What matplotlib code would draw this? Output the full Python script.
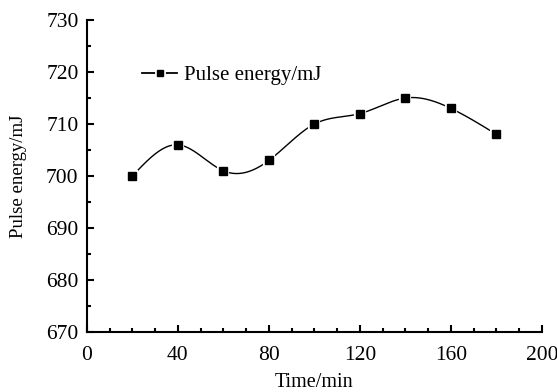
import numpy as np
import matplotlib
matplotlib.use("Agg")
import matplotlib.pyplot as plt
from matplotlib.ticker import MultipleLocator
from matplotlib.lines import Line2D

time_min = [20, 40, 60, 80, 100, 120, 140, 160, 180]
pulse_energy = [700, 706, 701, 703, 710, 712, 715, 713, 708]

def natural_spline(x, y, xs):
    x = np.asarray(x, float); y = np.asarray(y, float)
    n = len(x)
    h = np.diff(x)
    A = np.zeros((n, n)); b = np.zeros(n)
    A[0, 0] = 1; A[-1, -1] = 1
    for i in range(1, n - 1):
        A[i, i - 1] = h[i - 1]
        A[i, i] = 2 * (h[i - 1] + h[i])
        A[i, i + 1] = h[i]
        b[i] = 3 * ((y[i + 1] - y[i]) / h[i] - (y[i] - y[i - 1]) / h[i - 1])
    c = np.linalg.solve(A, b)
    out = np.empty_like(xs)
    for k, xv in enumerate(xs):
        i = min(max(np.searchsorted(x, xv) - 1, 0), n - 2)
        dx = xv - x[i]
        bi = (y[i + 1] - y[i]) / h[i] - h[i] * (2 * c[i] + c[i + 1]) / 3
        di = (c[i + 1] - c[i]) / (3 * h[i])
        out[k] = y[i] + bi * dx + c[i] * dx ** 2 + di * dx ** 3
    return out

plt.rcParams['font.family'] = ['Liberation Serif', 'DejaVu Serif']
plt.rcParams['font.size'] = 14

fig = plt.figure(figsize=(5.57, 3.92), dpi=100)
ax = fig.add_axes([0.156, 0.153, 0.817, 0.796])

xs = np.linspace(time_min[0], time_min[-1], 400)
ys = natural_spline(time_min, pulse_energy, xs)
ax.plot(xs, ys, color='black', lw=1.0, zorder=2)
ax.plot(time_min, pulse_energy, linestyle='none', marker='s', markersize=6.3,
        markerfacecolor='black', markeredgecolor='white', markeredgewidth=3, zorder=3)
ax.plot(time_min, pulse_energy, linestyle='none', marker='s', markersize=6.3,
        color='black', zorder=4)

h1 = Line2D([0], [0], color='black', lw=1.3, marker='s', markersize=5,
            markerfacecolor='white', markeredgecolor='white', markeredgewidth=3.5)
h2 = Line2D([0], [0], linestyle='none', marker='s', markersize=5, color='black')
ax.legend([(h1, h2)], ['Pulse energy/mJ'], loc='upper left', bbox_to_anchor=(0.08, 0.915),
          frameon=False, handlelength=1.7, handletextpad=0.3, fontsize=15)

ax.set_xlim(0, 200)
ax.set_ylim(670, 730)
ax.xaxis.set_major_locator(MultipleLocator(40))
ax.xaxis.set_minor_locator(MultipleLocator(10))
ax.yaxis.set_major_locator(MultipleLocator(10))
ax.yaxis.set_minor_locator(MultipleLocator(5))
ax.spines['top'].set_visible(False)
ax.spines['right'].set_visible(False)
for s in ['left', 'bottom']:
    ax.spines[s].set_linewidth(1.5)
ax.tick_params(which='both', direction='in', width=1.5, labelsize=15.5)
ax.tick_params(which='major', length=5)
ax.tick_params(which='minor', length=3)
ax.tick_params(axis='x', pad=10)
ax.tick_params(axis='y', pad=6)
ax.set_xlabel('Time/min', labelpad=6, fontsize=14.5)
ax.set_ylabel('Pulse energy/mJ', labelpad=14, fontsize=13.5)

fig.savefig('out.png', dpi=100)
